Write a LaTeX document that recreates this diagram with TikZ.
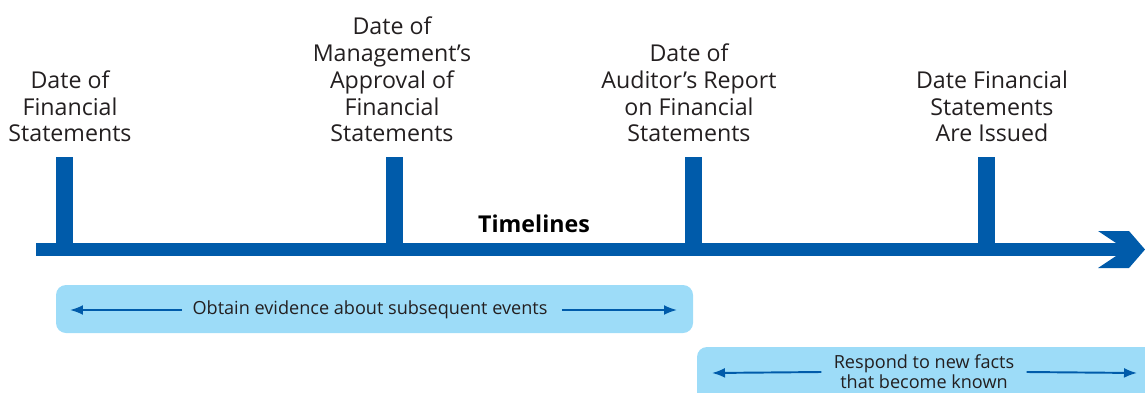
\documentclass[tikz,border=0pt]{standalone}
\usepackage{fontspec}
\setmainfont{Open Sans}
\usetikzlibrary{positioning,arrows.meta}
\definecolor{barblue}{HTML}{005BAA}
\definecolor{boxblue}{HTML}{9DDCF8}
\definecolor{inkgray}{HTML}{231F20}

\begin{document}
\begin{tikzpicture}[x=0.02cm,y=-0.02cm,
	datelabel/.style={align=center, anchor=south, inner sep=0pt, text=inkgray, font=\fontsize{13.2}{15.3}\selectfont},
	tick/.style={draw=barblue, line width=0.34cm},
	spanbox/.style={fill=boxblue, rounded corners=0.2cm},
	spantext/.style={text=inkgray, align=center, inner sep=0pt, font=\fontsize{10.3}{11.4}\selectfont},
	spanarrow/.style={draw=barblue, line width=1.1pt, -{Latex[length=0.26cm,width=0.2cm]}}]
	\useasboundingbox (0,0) rectangle (1145,392);
	% dates above the line
	\node[datelabel](date1) at (70,142.5){Date of\\Financial\\Statements};
	\node[datelabel](date2) at (392,142.5){Date of\\Management’s\\Approval of\\Financial\\Statements};
	\node[datelabel](date3) at (689,142.5){Date of\\Auditor’s Report\\on Financial\\Statements};
	\node[datelabel](date4) at (992,142.5){Date Financial\\Statements\\Are Issued};
	% ticks
	\coordinate (t1) at (64.5,249); \coordinate (t1top) at (64.5,157);
	\coordinate (t2) at (394.5,249); \coordinate (t2top) at (394.5,157);
	\coordinate (t3) at (693,249); \coordinate (t3top) at (693,157);
	\coordinate (t4) at (986.5,249); \coordinate (t4top) at (986.5,157);
	\draw[tick] (t1) -- (t1top);
	\draw[tick] (t2) -- (t2top);
	\draw[tick] (t3) -- (t3top);
	\draw[tick] (t4) -- (t4top);
	% main line with arrow head
	\coordinate (start) at (36,249);
	\coordinate (stop) at (1116,249);
	\draw[barblue, line width=0.26cm] (start) -- (stop);
	\fill[barblue] (1098,231) -- (1129,231) -- (1145,249.5) -- (1129,268) -- (1098,268) -- (1116,256) -- (1116,243) -- cycle;
	\node[font=\fontsize{13.2}{15}\bfseries, text=black](title) at (534,224){Timelines};
	% spans below the line
	\fill[spanbox] (56,285) rectangle (693,333);
	\node[spantext](evid) at (370,310){Obtain evidence about subsequent events};
	\coordinate (evidL) at (70,310); \coordinate (evidR) at (677,310);
	\draw[spanarrow] (evid.west) ++(-10,0) -- (evidL);
	\draw[spanarrow] (evid.east) ++(14,0) -- (evidR);
	\fill[spanbox] (697,347) rectangle (1165,410);
	\node[spantext](resp) at (924,372){Respond to new facts\\that become known};
	\coordinate (respL) at (712,373); \coordinate (respR) at (1137,373);
	\draw[spanarrow] (resp.west) ++(-12,0) -- (respL);
	\draw[spanarrow] (resp.east) ++(12,0) -- (respR);
\end{tikzpicture}
\end{document}
